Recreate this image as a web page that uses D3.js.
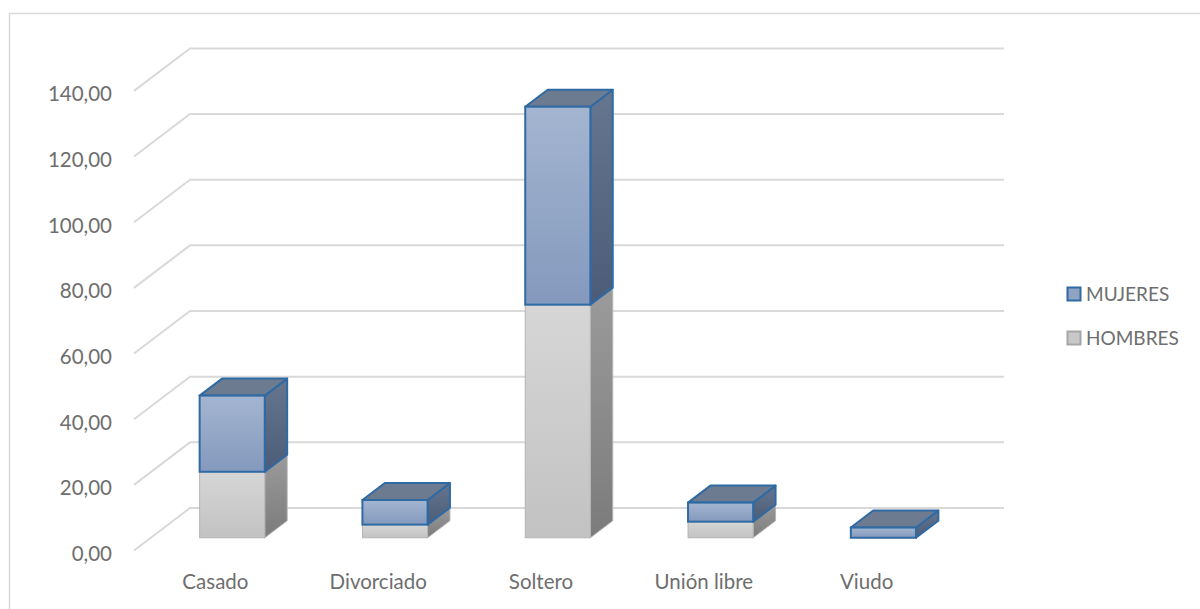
<!DOCTYPE html>
<html>
<head>
<meta charset="utf-8">
<script src="https://cdn.jsdelivr.net/npm/d3@7"></script>
<style>
  html, body { margin: 0; padding: 0; background: #ffffff; }
  svg { display: block; }
  text { font-family: Lato, "Noto Sans", sans-serif; fill: #6e6e6e; }
</style>
</head>
<body>
<svg id="chart" width="1200" height="609"></svg>
<script>
// Estado civil, porcentajes por sexo
const categories = ["Casado", "Divorciado", "Soltero", "Unión libre", "Viudo"];
const hombres = [20.1, 4.0, 71.0, 4.9, 0.0];
const mujeres = [23.2, 7.5, 60.3, 5.8, 3.1];
const seriesNames = ["HOMBRES", "MUJERES"];
const tickValues = [0, 20, 40, 60, 80, 100, 120, 140];

const svg = d3.select("#chart");
const W = 1200, H = 609;

// 3D geometry: front edge of the floor and the depth vector toward the back wall
const frontLeft = 134, frontRight = 948;
const depth = { dx: 56, dy: -42.5 };
const barFront = 0.3, barBack = 0.7;   // bar slab position inside the depth
const barFrac = 0.4;                   // bar width as a share of the category slot

const y = d3.scaleLinear().domain([0, 140]).range([550.5, 90.9]);
const x = d3.scaleBand().domain(categories).range([frontLeft, frontRight]).padding(0);

const fmt = d3.formatLocale({ decimal: ",", thousands: ".", grouping: [3], currency: ["", ""] }).format(".2f");

// outer frame
svg.append("rect")
  .attr("x", 9.5).attr("y", 13.5).attr("width", W).attr("height", H + 50)
  .attr("fill", "none").attr("stroke", "#d9d9d9").attr("stroke-width", 1.5);

// gradients
const defs = svg.append("defs");
function grad(id, c0, c1) {
  const g = defs.append("linearGradient").attr("id", id)
    .attr("x1", 0).attr("y1", 0).attr("x2", 0).attr("y2", 1);
  g.append("stop").attr("offset", 0).attr("stop-color", c0);
  g.append("stop").attr("offset", 1).attr("stop-color", c1);
}
grad("mFront", "#a3b5d0", "#8499bd");
grad("mSide", "#66768f", "#4b5c78");
grad("hFront", "#d6d6d6", "#c2c2c2");
grad("hSide", "#9b9b9b", "#7b7b7b");

// gridlines: side wall slant + back wall horizontal
const grid = svg.append("g");
tickValues.forEach(v => {
  const y0 = y(v);
  grid.append("path")
    .attr("d", `M${frontLeft},${y0} L${frontLeft + depth.dx},${y0 + depth.dy} L${frontRight + depth.dx},${y0 + depth.dy}`)
    .attr("fill", "none").attr("stroke", "#d9d9d9").attr("stroke-width", 2);
});

// y axis labels
const yAxis = d3.axisLeft(y).tickValues(tickValues).tickSize(0).tickPadding(0).tickFormat(fmt);
const yg = svg.append("g").attr("transform", "translate(112,0)").call(yAxis);
yg.select(".domain").remove();
yg.selectAll("text")
  .attr("dy", "0.48em")
  .style("font-size", "20.5px").style("font-family", "Lato, 'Noto Sans', sans-serif")
  .attr("fill", "#6e6e6e");

// x axis labels
const xAxis = d3.axisBottom(x).tickSize(0).tickPadding(0);
const xg = svg.append("g").attr("transform", "translate(0,573)").call(xAxis);
xg.select(".domain").remove();
xg.selectAll("text")
  .attr("dy", "0.78em")
  .style("font-size", "20.5px").style("font-family", "Lato, 'Noto Sans', sans-serif")
  .attr("fill", "#6e6e6e");

// stacked 3D columns
const styles = {
  HOMBRES: { front: "url(#hFront)", side: "url(#hSide)", top: "#a9a9a9", stroke: "#b4b4b4", sw: 1 },
  MUJERES: { front: "url(#mFront)", side: "url(#mSide)", top: "#6d7b91", stroke: "#2f6aa4", sw: 2 }
};

const stackData = categories.map((c, i) => ({ cat: c, HOMBRES: hombres[i], MUJERES: mujeres[i] }));
const stacked = d3.stack().keys(seriesNames)(stackData);

const bw = x.bandwidth() * barFrac;
const fx = depth.dx * barFront, fy = depth.dy * barFront;
const bdx = depth.dx * (barBack - barFront), bdy = depth.dy * (barBack - barFront);

const bars = svg.append("g");
categories.forEach((c, i) => {
  const g = bars.append("g");
  stacked.forEach(layer => {
    const d = layer[i];
    if (d[1] - d[0] <= 0) return;
    const st = styles[layer.key];
    const x0 = x(c) + (x.bandwidth() - bw) / 2 + fx;
    const x1 = x0 + bw;
    const yb = y(d[0]) + fy, yt = y(d[1]) + fy;
    // right side face
    g.append("path")
      .attr("d", `M${x1},${yt} L${x1 + bdx},${yt + bdy} L${x1 + bdx},${yb + bdy} L${x1},${yb} Z`)
      .attr("fill", st.side).attr("stroke", st.stroke).attr("stroke-width", st.sw)
      .attr("stroke-linejoin", "round");
    // top face
    g.append("path")
      .attr("d", `M${x0},${yt} L${x0 + bdx},${yt + bdy} L${x1 + bdx},${yt + bdy} L${x1},${yt} Z`)
      .attr("fill", st.top).attr("stroke", st.stroke).attr("stroke-width", st.sw)
      .attr("stroke-linejoin", "round");
    // front face
    g.append("rect")
      .attr("x", x0).attr("y", yt).attr("width", bw).attr("height", yb - yt)
      .attr("fill", st.front).attr("stroke", st.stroke).attr("stroke-width", st.sw);
  });
});

// legend
const legendItems = [
  { key: "MUJERES", fill: "#8fa3c3", stroke: "#2f6aa4", y: 294 },
  { key: "HOMBRES", fill: "#c8c8c8", stroke: "#a6a6a6", y: 338 }
];
const lg = svg.append("g");
legendItems.forEach(it => {
  lg.append("rect")
    .attr("x", 1067.5).attr("y", it.y - 6.5).attr("width", 13).attr("height", 13)
    .attr("fill", it.fill).attr("stroke", it.stroke).attr("stroke-width", 2);
  lg.append("text")
    .attr("x", 1086).attr("y", it.y).attr("dy", "0.36em")
    .style("font-size", "19px").text(it.key);
});
</script>
</body>
</html>
